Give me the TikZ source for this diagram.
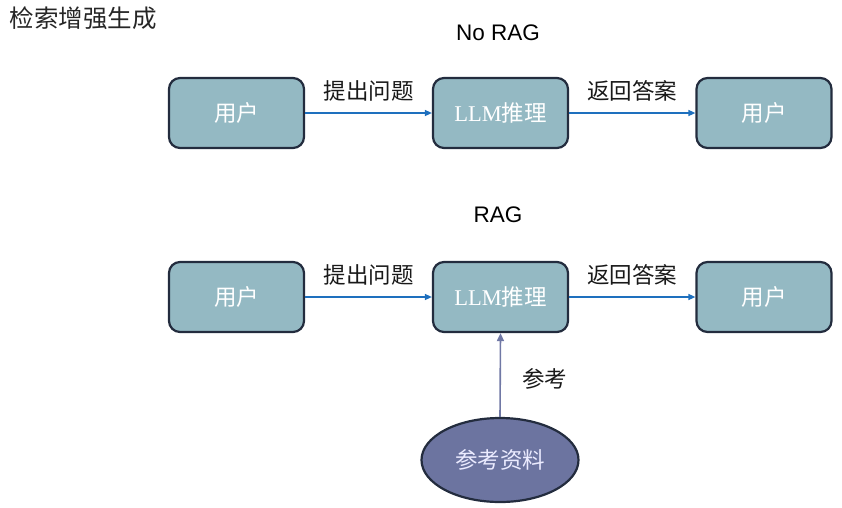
\documentclass[tikz,border=0pt]{standalone}
\usepackage{fontspec}
\setmainfont{Noto Sans CJK SC}
\newfontfamily\latinserif{Liberation Serif}
\newfontfamily\latinsans{Liberation Sans}
\usepackage{tikz}
\usetikzlibrary{arrows.meta, positioning, shapes.geometric}
\usepackage{xcolor}
\definecolor{boxfill}{RGB}{148, 185, 195}
\definecolor{boxline}{RGB}{35, 44, 62}
\definecolor{reffill}{RGB}{108, 116, 160}
\definecolor{flowblue}{RGB}{30, 112, 190}
\definecolor{refline}{RGB}{112, 120, 165}

\begin{document}
\begin{tikzpicture}[
    x=1pt, y=-1pt,
    font=\fontsize{22.5}{26}\selectfont,
    stage/.style={draw=boxline, line width=2.2pt, fill=boxfill, rounded corners=11pt,
        minimum width=135pt, minimum height=70pt, text=white, inner sep=0pt},
    source/.style={ellipse, draw=boxline, line width=2.2pt, fill=reffill,
        minimum width=157pt, minimum height=84pt, text=white!92!blue, inner sep=0pt},
    flow/.style={-{Triangle[length=7pt, width=6pt]}, line width=1.4pt, draw=flowblue},
    lookup/.style={-{Triangle[length=8pt, width=7pt]}, line width=1.6pt, draw=refline},
    step label/.style={above=8pt, text=black!90},
    title/.style={font=\latinsans\fontsize{22.5}{26}\selectfont}
]
    \useasboundingbox (0,0) rectangle (842,507);

    \node[anchor=west, font=\fontsize{24.5}{28}\selectfont, text=black!85] (heading) at (6,18) {检索增强生成};

    % No RAG
    \node[title] (norag) at (498,33) {No RAG};
    \node[stage] (user1) at (236.5,113) {用户};
    \node[stage] (llm1) at (500.5,113) {{\latinserif LLM}推理};
    \node[stage] (back1) at (764,113) {用户};
    \draw[flow] (user1.east) -- node[step label] {提出问题} (llm1.west);
    \draw[flow] (llm1.east) -- node[step label] {返回答案} (back1.west);

    % RAG
    \node[title] (rag) at (498,215) {RAG};
    \node[stage] (user2) at (236.5,297) {用户};
    \node[stage] (llm2) at (500.5,297) {{\latinserif LLM}推理};
    \node[stage] (back2) at (764,297) {用户};
    \draw[flow] (user2.east) -- node[step label] {提出问题} (llm2.west);
    \draw[flow] (llm2.east) -- node[step label] {返回答案} (back2.west);

    \node[source] (docs) at (500,460) {参考资料};
    \draw[lookup] (docs.north) -- node[pos=0.45, right=18pt, text=black!90] {参考} (llm2.south);
\end{tikzpicture}
\end{document}
